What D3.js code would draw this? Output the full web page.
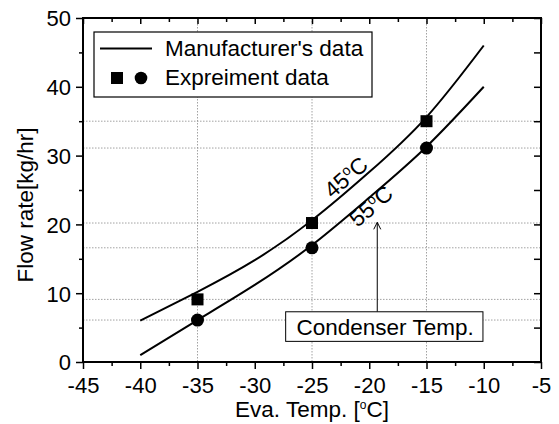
<!DOCTYPE html>
<html><head><meta charset="utf-8">
<script src="https://cdn.jsdelivr.net/npm/d3@7"></script>
<style>
html,body{margin:0;padding:0;background:#fff;}
text{font-family:"Liberation Sans",Arial,sans-serif;fill:#000;}
</style></head>
<body>
<svg id="chart" width="559" height="424"></svg>
<script>
// ---- data ----
const xTicks = [-45, -40, -35, -30, -25, -20, -15, -10, -5];
const yTicks = [0, 10, 20, 30, 40, 50];
const manuX = [-40, -35, -30, -25, -20, -15, -10];
const manu45 = [6, 10.2, 14.8, 20.6, 27.6, 35.6, 46];
const manu55 = [1, 6.1, 11.2, 17.0, 23.9, 31.3, 40];
const expX = [-35, -25, -15];
const exp45 = [9.1, 20.2, 35.0];
const exp55 = [6.1, 16.6, 31.1];
const legendLabels = ["Manufacturer's data", "Expreiment data"];
const curveLabels = ["45", "55"];
const annotation = "Condenser Temp.";

// ---- layout ----
const svg = d3.select("#chart");
const m = {l: 83, r: 541, t: 18, b: 362};
const x = d3.scaleLinear().domain([-45, -5]).range([m.l, m.r]);
const y = d3.scaleLinear().domain([0, 50]).range([m.b, m.t]);
const W = m.r - m.l, H = m.b - m.t;

// grid lines (dotted)
const grid = svg.append("g").attr("stroke", "#8a8a8a").attr("stroke-width", 0.8).attr("stroke-dasharray", "1.5,1.5");
expX.forEach(v => grid.append("line").attr("x1", x(v)).attr("x2", x(v)).attr("y1", m.t).attr("y2", m.b));
exp45.concat(exp55).forEach(v => grid.append("line").attr("x1", m.l).attr("x2", m.r).attr("y1", y(v)).attr("y2", y(v)));

// axes
const minorX = d3.range(-42.5, -5, 5);
const minorY = d3.range(5, 50, 10);
function axis(gen, tr, vals, size, fmt, fs) {
  const g = svg.append("g").attr("transform", tr)
    .call(gen.tickValues(vals).tickSize(size).tickFormat(fmt));
  g.select(".domain").remove();
  g.selectAll(".tick line").attr("stroke", "#000").attr("stroke-width", 1.5);
  g.selectAll("text").attr("font-size", fs).attr("font-family", '"Liberation Sans",Arial,sans-serif').attr("fill", "#000");
  return g;
}
const fmt = d => String(d);
const bx = axis(d3.axisBottom(x), `translate(0,${m.b})`, xTicks, 7, fmt, 22);
bx.selectAll("text").attr("dy", 0).attr("y", 30.5);
axis(d3.axisBottom(x), `translate(0,${m.b})`, minorX, 4, "", 0);
axis(d3.axisTop(x), `translate(0,${m.t})`, xTicks, -6, "", 0);
axis(d3.axisTop(x), `translate(0,${m.t})`, minorX, -4, "", 0);
const ly = axis(d3.axisLeft(y), `translate(${m.l},0)`, yTicks, 7, d => d, 22);
ly.selectAll("text").attr("x", -12).attr("dy", "0.36em");
axis(d3.axisLeft(y), `translate(${m.l},0)`, minorY, 4, "", 0);
axis(d3.axisRight(y), `translate(${m.r},0)`, yTicks.concat(minorY), -7, "", 0);

// frame
svg.append("rect").attr("x", m.l).attr("y", m.t).attr("width", W).attr("height", H)
  .attr("fill", "none").attr("stroke", "#000").attr("stroke-width", 2);

// curves
const line = d3.line().x(d => x(d[0])).y(d => y(d[1])).curve(d3.curveNatural);
[manu45, manu55].forEach(s => {
  svg.append("path").datum(manuX.map((v, i) => [v, s[i]])).attr("d", line)
    .attr("fill", "none").attr("stroke", "#000").attr("stroke-width", 2);
});

// markers
const sq = 12;
svg.append("g").selectAll("rect").data(expX.map((v, i) => [v, exp45[i]])).join("rect")
  .attr("x", d => x(d[0]) - sq / 2).attr("y", d => y(d[1]) - sq / 2)
  .attr("width", sq).attr("height", sq).attr("fill", "#000");
svg.append("g").selectAll("circle").data(expX.map((v, i) => [v, exp55[i]])).join("circle")
  .attr("cx", d => x(d[0])).attr("cy", d => y(d[1])).attr("r", 6.5).attr("fill", "#000");

// curve labels
function degLabel(cx, cy, num, rot) {
  const t = svg.append("text").attr("transform", `translate(${cx},${cy}) rotate(${rot})`)
    .attr("text-anchor", "middle").attr("font-size", 22.5);
  t.append("tspan").text(num);
  t.append("tspan").attr("font-size", 14).attr("dy", -8).text("o");
  t.append("tspan").attr("dy", 8).text("C");
}
degLabel(x(-21.6), y(26.0), curveLabels[0], -41);
degLabel(x(-19.4), y(21.8), curveLabels[1], -41);

// annotation box + arrow
const ax = x(-19.3);
svg.append("line").attr("x1", ax).attr("x2", ax).attr("y1", y(7.3)).attr("y2", y(20.3))
  .attr("stroke", "#000").attr("stroke-width", 1);
svg.append("path").attr("d", `M${ax - 3.5},${y(20.3) + 7}L${ax},${y(20.3)}L${ax + 3.5},${y(20.3) + 7}`)
  .attr("fill", "none").attr("stroke", "#000").attr("stroke-width", 1);
svg.append("rect").attr("x", x(-27.3)).attr("y", y(7.3)).attr("width", x(-10.07) - x(-27.3)).attr("height", y(3.0) - y(7.3))
  .attr("fill", "#fff").attr("stroke", "#000").attr("stroke-width", 1);
svg.append("text").attr("x", x(-26.35)).attr("y", y(3.9)).attr("font-size", 22.5).text(annotation);

// legend
const lg = svg.append("g");
lg.append("rect").attr("x", 94).attr("y", 32).attr("width", 278).attr("height", 65)
  .attr("fill", "#fff").attr("stroke", "#000").attr("stroke-width", 1.2);
lg.append("line").attr("x1", 100).attr("x2", 152).attr("y1", 48.5).attr("y2", 48.5).attr("stroke", "#000").attr("stroke-width", 2);
lg.append("text").attr("x", 165).attr("y", 56).attr("font-size", 22.5).text(legendLabels[0]);
lg.append("rect").attr("x", 111).attr("y", 72).attr("width", 12).attr("height", 12).attr("fill", "#000");
lg.append("circle").attr("cx", 141).attr("cy", 78).attr("r", 6.3).attr("fill", "#000");
lg.append("text").attr("x", 165).attr("y", 85).attr("font-size", 22.5).text(legendLabels[1]);

// axis titles
const xt = svg.append("text").attr("x", (m.l + m.r) / 2).attr("y", 417).attr("text-anchor", "middle").attr("font-size", 22.5);
xt.append("tspan").text("Eva. Temp. [");
xt.append("tspan").attr("font-size", 12).attr("dy", -8).text("o");
xt.append("tspan").attr("dy", 8).text("C]");
svg.append("text").attr("transform", `translate(32.5,${(m.t + m.b) / 2 + 15}) rotate(-90)`)
  .attr("text-anchor", "middle").attr("font-size", 22.5).text("Flow rate[kg/hr]");
</script>
</body></html>
